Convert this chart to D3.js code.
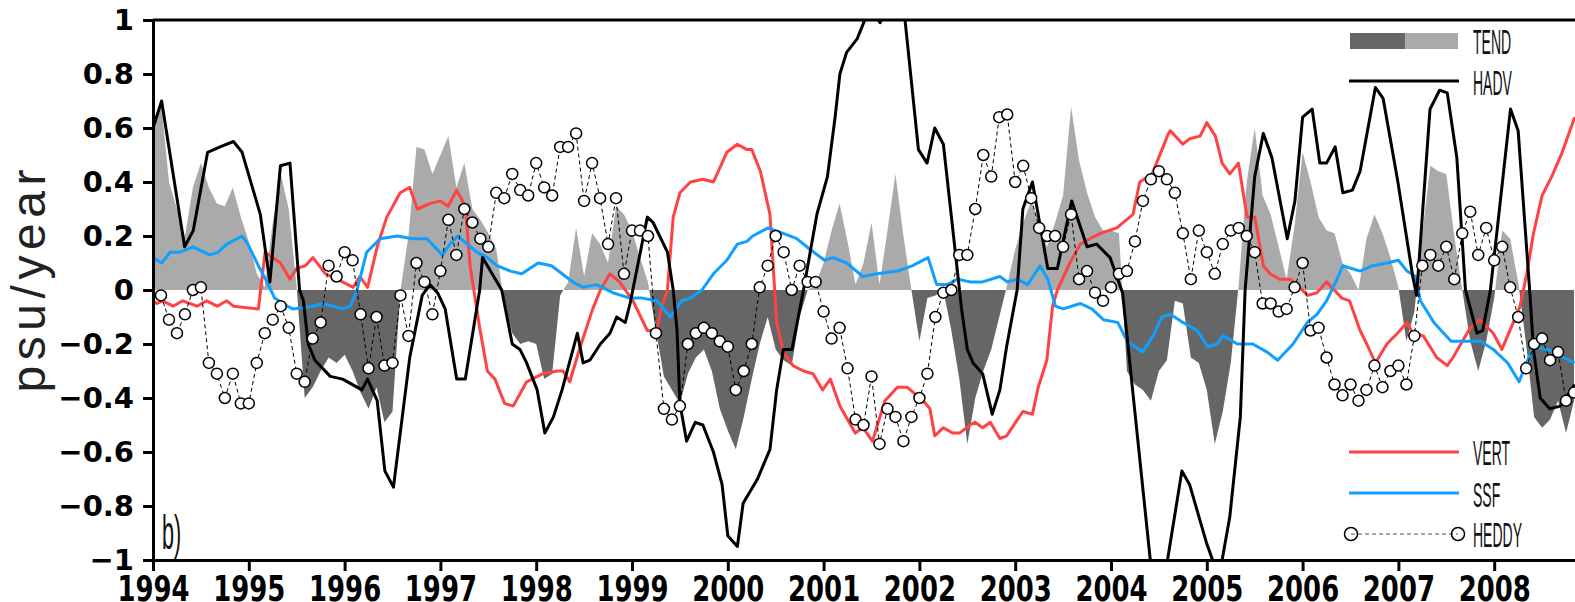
<!DOCTYPE html>
<html>
<head>
<meta charset="utf-8">
<script src="https://cdn.jsdelivr.net/npm/d3@7"></script>
<style>
  body { margin: 0; background: #fff; }
  svg { display: block; }
</style>
</head>
<body>
<svg width="1575" height="602"></svg>
<script>
// ---- data (psu/year) ----
var yearTicks = [1994, 1995, 1996, 1997, 1998, 1999, 2000, 2001, 2002, 2003, 2004, 2005, 2006, 2007, 2008];
var valueTicks = [-1, -0.8, -0.6, -0.4, -0.2, 0, 0.2, 0.4, 0.6, 0.8, 1];

// TEND, monthly from Jan 1994
var tend = [0.60, 0.70, 0.40, 0.30, 0.20, 0.38, 0.47, 0.38, 0.32, 0.31, 0.38, 0.27,
  0.18, 0.06, 0.01, 0.25, 0.43, 0.30, 0.01, -0.40, -0.36, -0.30, -0.25, -0.27,
  -0.24, -0.30, -0.38, -0.44, -0.36, -0.49, -0.45, 0.00, 0.20, 0.53, 0.52, 0.43,
  0.50, 0.57, 0.38, 0.47, 0.30, 0.26, 0.21, 0.15, -0.05, -0.16, -0.20, -0.19,
  -0.20, -0.33, -0.31, -0.02, 0.03, 0.23, 0.05, 0.21, 0.17, 0.10, 0.31, 0.28,
  0.22, 0.12, 0.03, -0.15, -0.32, -0.37, -0.42, -0.31, -0.25, -0.22, -0.30, -0.44,
  -0.52, -0.59, -0.47, -0.33, -0.20, -0.10, -0.22, -0.26, -0.28, -0.10, 0.00, 0.02,
  0.10, 0.22, 0.32, 0.18, 0.02, 0.10, 0.25, 0.02, 0.22, 0.43, 0.20, 0.00,
  -0.19, -0.03, -0.02, 0.00, -0.15, -0.33, -0.57, -0.40, -0.30, -0.22, -0.10, 0.02,
  0.15, 0.25, 0.33, 0.25, 0.16, 0.25, 0.35, 0.68, 0.48, 0.36, 0.27, 0.22,
  0.22, 0.21, -0.30, -0.35, -0.37, -0.41, -0.30, -0.26, -0.04, -0.05, -0.25, -0.27,
  -0.37, -0.57, -0.45, -0.27, 0.02, 0.40, 0.60, 0.35, 0.28, 0.16, 0.04, 0.24,
  0.51, 0.40, 0.27, 0.22, 0.21, 0.10, 0.06, 0.00, 0.19, 0.28, 0.21, 0.12,
  0.01, -0.19, -0.08, 0.21, 0.46, 0.44, 0.43, 0.20, 0.00, -0.19, -0.30, -0.19,
  -0.03, 0.22, 0.19, 0.03, -0.20, -0.47, -0.51, -0.48, -0.41, -0.53, -0.41];

// HEDDY, monthly from Feb 1994
var heddy = [-0.02, -0.11, -0.16, -0.09, 0.00, 0.01, -0.27, -0.31, -0.40, -0.31, -0.42,
  -0.42, -0.27, -0.16, -0.11, -0.06, -0.14, -0.31, -0.34, -0.18, -0.12, 0.09, 0.05,
  0.14, 0.11, -0.09, -0.29, -0.10, -0.28, -0.27, -0.02, -0.17, 0.10, 0.03, -0.09,
  0.07, 0.26, 0.13, 0.30, 0.25, 0.19, 0.16, 0.36, 0.34, 0.43, 0.37, 0.35,
  0.47, 0.38, 0.35, 0.53, 0.53, 0.58, 0.33, 0.47, 0.34, 0.17, 0.34, 0.06,
  0.22, 0.22, 0.20, -0.16, -0.44, -0.48, -0.43, -0.20, -0.16, -0.14, -0.16, -0.19,
  -0.21, -0.37, -0.30, -0.20, 0.01, 0.09, 0.20, 0.14, 0.00, 0.09, 0.03, 0.03,
  -0.08, -0.18, -0.14, -0.29, -0.48, -0.50, -0.32, -0.57, -0.44, -0.47, -0.56, -0.47,
  -0.40, -0.31, -0.10, -0.01, 0.00, 0.13, 0.13, 0.30, 0.50, 0.42, 0.64, 0.65,
  0.40, 0.46, 0.34, 0.23, 0.20, 0.20, 0.16, 0.28, 0.04, 0.07, -0.01, -0.04,
  0.01, 0.06, 0.07, 0.18, 0.33, 0.41, 0.44, 0.41, 0.36, 0.21, 0.04, 0.22,
  0.14, 0.06, 0.17, 0.22, 0.23, 0.20, 0.14, -0.05, -0.05, -0.08, -0.07, 0.01,
  0.10, -0.15, -0.14, -0.25, -0.35, -0.39, -0.35, -0.41, -0.37, -0.28, -0.36, -0.30,
  -0.28, -0.35, -0.17, 0.09, 0.13, 0.09, 0.16, 0.04, 0.21, 0.29, 0.13, 0.23,
  0.11, 0.16, 0.01, -0.10, -0.29, -0.20, -0.18, -0.26, -0.23, -0.41, -0.38];

// HADV [year, value]
var hadv = [[1994.00,0.60],[1994.09,0.70],[1994.33,0.16],[1994.42,0.22],[1994.57,0.51],[1994.70,0.53],
  [1994.84,0.55],[1994.93,0.51],[1995.12,0.28],[1995.22,0.03],[1995.33,0.46],[1995.43,0.47],[1995.53,0.00],
  [1995.57,-0.04],[1995.62,-0.20],[1995.69,-0.26],[1995.85,-0.32],[1995.98,-0.33],[1996.18,-0.37],
  [1996.24,-0.33],[1996.34,-0.41],[1996.42,-0.67],[1996.51,-0.73],[1996.68,-0.25],[1996.81,-0.02],
  [1996.89,0.02],[1996.97,-0.01],[1997.05,-0.07],[1997.17,-0.33],[1997.26,-0.33],[1997.41,0.00],
  [1997.44,0.12],[1997.64,0.00],[1997.75,-0.20],[1997.83,-0.22],[1997.90,-0.27],[1998.01,-0.37],
  [1998.09,-0.53],[1998.18,-0.47],[1998.27,-0.37],[1998.43,-0.16],[1998.49,-0.27],[1998.56,-0.26],
  [1998.67,-0.20],[1998.77,-0.16],[1998.84,-0.10],[1998.93,-0.12],[1998.98,-0.05],[1999.16,0.27],
  [1999.22,0.25],[1999.37,0.14],[1999.43,0.00],[1999.47,-0.15],[1999.50,-0.42],[1999.57,-0.56],
  [1999.66,-0.49],[1999.74,-0.50],[1999.85,-0.60],[1999.94,-0.72],[2000.00,-0.91],[2000.10,-0.95],
  [2000.16,-0.79],[2000.31,-0.70],[2000.44,-0.59],[2000.51,-0.37],[2000.58,-0.22],[2000.67,-0.22],
  [2000.79,0.00],[2000.93,0.28],[2001.04,0.42],[2001.12,0.64],[2001.17,0.80],[2001.24,0.88],
  [2001.35,0.93],[2001.43,1.00],[2001.50,1.04],[2001.59,0.99],[2001.70,1.08],[2001.85,1.00],
  [2001.99,0.52],[2002.08,0.47],[2002.16,0.60],[2002.25,0.54],[2002.35,0.22],[2002.44,-0.07],
  [2002.50,-0.22],[2002.56,-0.27],[2002.66,-0.31],[2002.76,-0.46],[2002.84,-0.37],[2002.91,-0.21],
  [2003.02,0.00],[2003.08,0.30],[2003.18,0.40],[2003.24,0.28],[2003.34,0.08],[2003.44,0.08],
  [2003.59,0.33],[2003.75,0.16],[2003.85,0.17],[2003.99,0.12],[2004.12,-0.01],[2004.41,-1.00],
  [2004.50,-1.15],[2004.59,-1.00],[2004.74,-0.67],[2004.82,-0.72],[2005.00,-0.94],[2005.06,-1.00],
  [2005.12,-1.05],[2005.16,-1.00],[2005.24,-0.84],[2005.35,-0.47],[2005.40,0.00],[2005.50,0.42],
  [2005.59,0.58],[2005.68,0.49],[2005.84,0.19],[2005.92,0.33],[2006.00,0.64],[2006.10,0.67],
  [2006.18,0.47],[2006.25,0.47],[2006.34,0.53],[2006.42,0.36],[2006.52,0.37],[2006.60,0.44],
  [2006.76,0.75],[2006.84,0.71],[2006.99,0.41],[2007.15,0.05],[2007.19,-0.02],[2007.33,0.67],
  [2007.43,0.74],[2007.51,0.73],[2007.61,0.49],[2007.70,0.00],[2007.82,-0.16],[2007.88,-0.15],
  [2007.96,0.00],[2008.03,0.22],[2008.17,0.67],[2008.25,0.59],[2008.37,0.00],[2008.41,-0.22],
  [2008.48,-0.40],[2008.58,-0.44],[2008.69,-0.43],[2008.84,-0.35]];

// VERT [year, value]
var vert = [[1994.00,-0.04],[1994.04,-0.05],[1994.10,-0.04],[1994.21,-0.06],[1994.31,-0.04],[1994.46,-0.06],
  [1994.56,-0.04],[1994.67,-0.06],[1994.77,-0.04],[1994.84,-0.06],[1995.10,-0.07],[1995.17,0.14],
  [1995.33,0.10],[1995.43,0.04],[1995.50,0.08],[1995.59,0.09],[1995.67,0.12],[1995.80,0.06],
  [1995.92,0.04],[1996.09,0.01],[1996.16,0.05],[1996.24,0.01],[1996.34,0.16],[1996.44,0.27],
  [1996.58,0.36],[1996.68,0.38],[1996.76,0.30],[1996.89,0.32],[1997.00,0.33],[1997.08,0.31],
  [1997.17,0.37],[1997.26,0.31],[1997.31,0.09],[1997.41,-0.14],[1997.49,-0.30],[1997.57,-0.33],
  [1997.67,-0.42],[1997.76,-0.43],[1997.90,-0.34],[1998.07,-0.31],[1998.22,-0.30],[1998.28,-0.30],
  [1998.35,-0.34],[1998.46,-0.21],[1998.59,-0.07],[1998.67,0.00],[1998.77,0.06],[1998.87,0.03],
  [1999.01,-0.04],[1999.16,-0.15],[1999.26,-0.15],[1999.31,-0.06],[1999.37,0.00],[1999.43,0.27],
  [1999.50,0.36],[1999.61,0.40],[1999.74,0.41],[1999.85,0.40],[1999.99,0.51],[2000.10,0.54],
  [2000.20,0.52],[2000.25,0.52],[2000.34,0.44],[2000.44,0.28],[2000.51,-0.12],[2000.58,-0.23],
  [2000.68,-0.28],[2000.79,-0.30],[2000.89,-0.31],[2000.99,-0.37],[2001.07,-0.33],[2001.17,-0.43],
  [2001.33,-0.53],[2001.41,-0.51],[2001.51,-0.56],[2001.64,-0.41],[2001.77,-0.36],[2001.87,-0.36],
  [2002.04,-0.41],[2002.11,-0.44],[2002.16,-0.54],[2002.25,-0.51],[2002.35,-0.53],[2002.42,-0.53],
  [2002.53,-0.50],[2002.58,-0.49],[2002.66,-0.51],[2002.74,-0.49],[2002.84,-0.55],[2002.91,-0.54],
  [2003.08,-0.45],[2003.18,-0.46],[2003.24,-0.36],[2003.33,-0.26],[2003.39,-0.06],[2003.44,0.00],
  [2003.57,0.10],[2003.68,0.17],[2003.78,0.19],[2003.89,0.21],[2004.06,0.23],[2004.23,0.28],
  [2004.30,0.40],[2004.43,0.43],[2004.60,0.58],[2004.62,0.59],[2004.75,0.54],[2004.82,0.56],
  [2004.93,0.57],[2005.00,0.62],[2005.09,0.57],[2005.16,0.47],[2005.24,0.43],[2005.33,0.47],
  [2005.42,0.27],[2005.50,0.27],[2005.59,0.09],[2005.66,0.06],[2005.76,0.04],[2005.87,0.04],
  [2005.97,0.01],[2006.05,-0.02],[2006.15,-0.01],[2006.25,0.03],[2006.41,-0.03],[2006.49,-0.04],
  [2006.60,-0.15],[2006.67,-0.20],[2006.76,-0.27],[2006.88,-0.20],[2006.99,-0.16],[2007.09,-0.12],
  [2007.15,-0.16],[2007.26,-0.17],[2007.40,-0.25],[2007.51,-0.28],[2007.57,-0.25],[2007.75,-0.14],
  [2007.85,-0.11],[2007.99,-0.16],[2008.08,-0.22],[2008.20,-0.12],[2008.27,-0.06],[2008.34,0.06],
  [2008.41,0.21],[2008.50,0.35],[2008.60,0.42],[2008.71,0.51],[2008.84,0.64]];

// SSF [year, value]
var ssf = [[1994.00,0.12],[1994.09,0.10],[1994.18,0.14],[1994.28,0.14],[1994.42,0.16],[1994.59,0.13],
  [1994.68,0.14],[1994.77,0.17],[1994.93,0.20],[1994.99,0.17],[1995.10,0.09],[1995.19,0.03],
  [1995.27,-0.03],[1995.40,-0.06],[1995.46,-0.07],[1995.67,-0.06],[1995.77,-0.05],[1995.88,-0.06],
  [1995.98,-0.07],[1996.06,-0.06],[1996.13,0.00],[1996.23,0.14],[1996.37,0.19],[1996.55,0.20],
  [1996.71,0.19],[1996.86,0.19],[1997.02,0.13],[1997.10,0.17],[1997.18,0.20],[1997.28,0.17],
  [1997.38,0.14],[1997.49,0.12],[1997.59,0.09],[1997.73,0.07],[1997.85,0.06],[1998.02,0.10],
  [1998.16,0.09],[1998.27,0.06],[1998.38,0.03],[1998.49,0.01],[1998.63,0.02],[1998.80,-0.01],
  [1998.98,-0.03],[1999.11,-0.03],[1999.26,-0.04],[1999.40,-0.10],[1999.52,-0.04],[1999.61,-0.03],
  [1999.73,0.00],[1999.85,0.06],[1999.99,0.11],[2000.10,0.17],[2000.20,0.18],[2000.26,0.20],
  [2000.42,0.23],[2000.58,0.21],[2000.72,0.19],[2000.86,0.15],[2001.01,0.11],[2001.10,0.12],
  [2001.24,0.10],[2001.41,0.05],[2001.56,0.06],[2001.77,0.07],[2001.93,0.09],[2002.09,0.12],
  [2002.18,0.02],[2002.29,0.02],[2002.40,0.04],[2002.53,0.03],[2002.66,0.03],[2002.84,0.05],
  [2002.92,0.03],[2003.02,0.04],[2003.13,0.02],[2003.26,0.09],[2003.34,0.04],[2003.42,-0.06],
  [2003.50,-0.07],[2003.68,-0.05],[2003.80,-0.07],[2003.92,-0.11],[2004.07,-0.12],[2004.17,-0.19],
  [2004.33,-0.23],[2004.44,-0.17],[2004.53,-0.10],[2004.62,-0.09],[2004.75,-0.12],[2004.90,-0.15],
  [2005.01,-0.21],[2005.11,-0.20],[2005.17,-0.17],[2005.32,-0.20],[2005.48,-0.20],[2005.63,-0.23],
  [2005.74,-0.26],[2005.90,-0.20],[2006.05,-0.12],[2006.15,-0.09],[2006.25,-0.04],[2006.36,0.04],
  [2006.42,0.09],[2006.60,0.07],[2006.73,0.09],[2006.88,0.10],[2007.00,0.11],[2007.09,0.07],
  [2007.18,0.05],[2007.23,-0.04],[2007.37,-0.12],[2007.55,-0.19],[2007.72,-0.19],[2007.86,-0.19],
  [2007.99,-0.22],[2008.14,-0.27],[2008.26,-0.34],[2008.35,-0.26],[2008.41,-0.21],[2008.56,-0.22],
  [2008.72,-0.25],[2008.84,-0.27]];

// ---- layout ----
var svg = d3.select("svg"),
    plotLeft = 153, plotTop = 20, plotBottom = 560;

var x = d3.scaleLinear().domain([1994, 2009]).range([plotLeft, plotLeft + 15 * 95.8]);
var y = d3.scaleLinear().domain([-1, 1]).range([plotBottom, plotTop]);
var plotW = x(2009) - plotLeft;

var tendData = tend.map(function(v, i) { return {t: 1994 + i / 12, v: v}; });
var heddyData = heddy.map(function(v, i) { return {t: 1994 + (i + 1) / 12, v: v}; });

var defs = svg.append("defs");
defs.append("clipPath").attr("id", "plot")
  .append("rect").attr("x", plotLeft).attr("y", plotTop).attr("width", plotW).attr("height", plotBottom - plotTop);
defs.append("clipPath").attr("id", "pos")
  .append("rect").attr("x", plotLeft).attr("y", plotTop).attr("width", plotW).attr("height", y(0) - plotTop);
defs.append("clipPath").attr("id", "neg")
  .append("rect").attr("x", plotLeft).attr("y", y(0)).attr("width", plotW).attr("height", plotBottom - y(0));

var g = svg.append("g").attr("clip-path", "url(#plot)");

// TEND shading
var area = d3.area()
    .x(function(d) { return x(d.t); })
    .y0(y(0))
    .y1(function(d) { return y(d.v); });

g.append("path").datum(tendData)
    .attr("clip-path", "url(#pos)")
    .attr("fill", "#aaaaaa")
    .attr("d", area);
g.append("path").datum(tendData)
    .attr("clip-path", "url(#neg)")
    .attr("fill", "#666666")
    .attr("d", area);

var line = d3.line()
    .x(function(d) { return x(d[0]); })
    .y(function(d) { return y(d[1]); });

g.append("path").datum(vert)
    .attr("fill", "none").attr("stroke", "#ff4242").attr("stroke-width", 3)
    .attr("stroke-linejoin", "round").attr("d", line);
g.append("path").datum(ssf)
    .attr("fill", "none").attr("stroke", "#0fa0ff").attr("stroke-width", 3)
    .attr("stroke-linejoin", "round").attr("d", line);
g.append("path").datum(hadv)
    .attr("fill", "none").attr("stroke", "#000").attr("stroke-width", 3)
    .attr("stroke-linejoin", "round").attr("d", line);

// HEDDY dashed line + open circles
g.append("path").datum(heddyData)
    .attr("fill", "none").attr("stroke", "#000").attr("stroke-width", 1)
    .attr("stroke-dasharray", "4,3")
    .attr("d", d3.line().x(function(d) { return x(d.t); }).y(function(d) { return y(d.v); }));
g.selectAll("circle.heddy").data(heddyData).enter().append("circle")
    .attr("class", "heddy")
    .attr("cx", function(d) { return x(d.t); })
    .attr("cy", function(d) { return y(d.v); })
    .attr("r", 5.5)
    .attr("fill", "#fff").attr("stroke", "#000").attr("stroke-width", 1.5);

// ---- axes ----
var yFmt = function(d) {
  if (d === 0) return "0";
  if (Math.abs(d) === 1) return d < 0 ? "\u22121" : "1";
  return d3.format(".1f")(d);
};

var yAxis = svg.append("g")
    .attr("transform", "translate(" + plotLeft + ",0)")
    .call(d3.axisLeft(y).tickValues(valueTicks).tickFormat(yFmt).tickSize(10).tickSizeOuter(0).tickPadding(9));
yAxis.selectAll("path, line").attr("stroke", "#000").attr("stroke-width", 3);
yAxis.selectAll("text")
    .attr("fill", "#000")
    .style("font-family", "'DejaVu Sans', sans-serif")
    .style("font-weight", "bold")
    .style("font-size", "29px");

var xAxis = svg.append("g")
    .attr("transform", "translate(0," + plotBottom + ")")
    .call(d3.axisBottom(x).tickValues(yearTicks).tickFormat(d3.format("d")).tickSize(11).tickSizeOuter(0));
xAxis.selectAll("path, line").attr("stroke", "#000").attr("stroke-width", 3);
xAxis.selectAll("text")
    .attr("fill", "#000")
    .attr("y", 41).attr("dy", null)
    .attr("transform", "scale(0.72,1)")
    .style("font-family", "'DejaVu Sans', sans-serif")
    .style("font-weight", "bold")
    .style("font-size", "36px");

// top frame line
svg.append("line")
    .attr("x1", plotLeft).attr("x2", x(2009))
    .attr("y1", y(1)).attr("y2", y(1))
    .attr("stroke", "#000").attr("stroke-width", 3);

// y title
svg.append("text")
    .attr("transform", "translate(45,281) rotate(-90)")
    .attr("text-anchor", "middle")
    .attr("textLength", 223)
    .attr("lengthAdjust", "spacing")
    .style("font-family", "'Liberation Sans', Arial, sans-serif")
    .style("font-size", "48px")
    .style("font-weight", "300")
    .attr("fill", "#222")
    .text("psu/year");

// panel label
svg.append("text")
    .attr("transform", "translate(162,549) scale(0.45,1)")
    .style("font-family", "'Liberation Sans', Arial, sans-serif")
    .style("font-size", "48px")
    .attr("fill", "#111")
    .text("b)");

// ---- legend ----
var leg = svg.append("g");
var legText = function(label, yb) {
  leg.append("text")
      .attr("transform", "translate(1473," + yb + ") scale(0.4,1)")
      .style("font-family", "'Liberation Sans', Arial, sans-serif")
      .style("font-size", "35px")
      .attr("fill", "#111")
      .text(label);
};

leg.append("rect").attr("x", 1350).attr("y", 33).attr("width", 55).attr("height", 16).attr("fill", "#666666");
leg.append("rect").attr("x", 1405).attr("y", 33).attr("width", 53).attr("height", 16).attr("fill", "#aaaaaa");
legText("TEND", 54);

leg.append("line").attr("x1", 1349).attr("x2", 1459).attr("y1", 81).attr("y2", 81)
    .attr("stroke", "#000").attr("stroke-width", 3);
legText("HADV", 95);

leg.append("line").attr("x1", 1349).attr("x2", 1459).attr("y1", 452).attr("y2", 452)
    .attr("stroke", "#ff4242").attr("stroke-width", 3);
legText("VERT", 465);

leg.append("line").attr("x1", 1349).attr("x2", 1459).attr("y1", 493).attr("y2", 493)
    .attr("stroke", "#0fa0ff").attr("stroke-width", 3);
legText("SSF", 507);

leg.append("line").attr("x1", 1351).attr("x2", 1458).attr("y1", 534).attr("y2", 534)
    .attr("stroke", "#555").attr("stroke-width", 1.2).attr("stroke-dasharray", "4,3");
[1351, 1458].forEach(function(cx) {
  leg.append("circle").attr("cx", cx).attr("cy", 534).attr("r", 6.5)
      .attr("fill", "none").attr("stroke", "#000").attr("stroke-width", 1.5);
});
legText("HEDDY", 547);
</script>
</body>
</html>
